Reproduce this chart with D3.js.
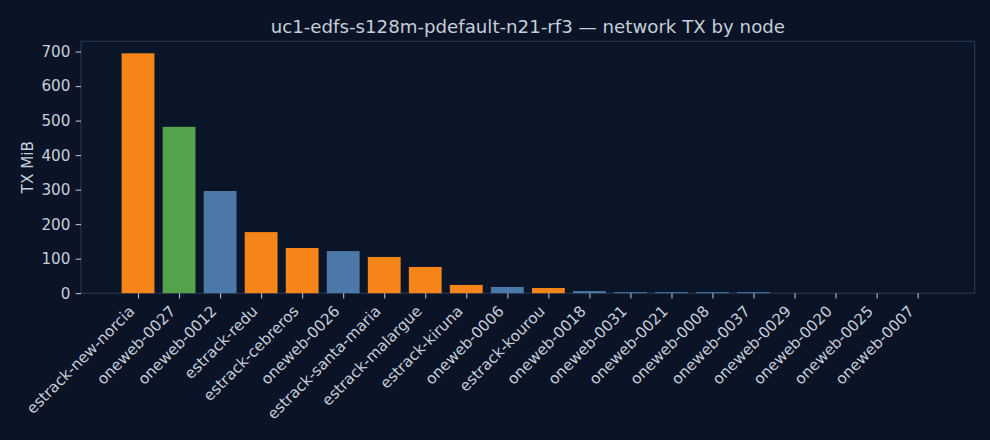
<!DOCTYPE html>
<html>
<head>
<meta charset="utf-8">
<script src="https://cdn.jsdelivr.net/npm/d3@7"></script>
<style>
  html, body { margin: 0; padding: 0; background: #0b1426; }
  text { font-family: "DejaVu Sans", sans-serif; }
</style>
</head>
<body>
<div id="chart"></div>
<script>
const nodes = ["estrack-new-norcia", "oneweb-0027", "oneweb-0012", "estrack-redu", "estrack-cebreros",
  "oneweb-0026", "estrack-santa-maria", "estrack-malargue", "estrack-kiruna", "oneweb-0006",
  "estrack-kourou", "oneweb-0018", "oneweb-0031", "oneweb-0021", "oneweb-0008",
  "oneweb-0037", "oneweb-0029", "oneweb-0020", "oneweb-0025", "oneweb-0007"];
const txMiB = [695, 482, 296, 177, 131, 122, 105, 76, 24, 18, 15, 6, 3, 3, 3, 3, 0, 0, 0, 0];
const yTicks = [0, 100, 200, 300, 400, 500, 600, 700];
const highlight = "oneweb-0027";

const W = 990, H = 440;
let margin = { top: 41.3, right: 15.3, bottom: 146.8, left: 81 },
  width = W - margin.left - margin.right,
  height = H - margin.top - margin.bottom;

const textCol = "#c5cedb", spineCol = "#2a3a55";
const fs = 15.2;
const colour = name => name === highlight ? "#54a24b"
  : name.startsWith("estrack") ? "#f58518" : "#4c78a8";

let svg = d3.select("#chart")
  .append("svg")
  .attr("width", W)
  .attr("height", H)
  .style("background", "#0b1426");

svg.append("text")
  .attr("x", margin.left + width / 2)
  .attr("y", 33)
  .attr("text-anchor", "middle")
  .attr("fill", textCol)
  .attr("font-size", 18.2)
  .text("uc1-edfs-s128m-pdefault-n21-rf3 \u2014 network TX by node");

let g = svg.append("g")
  .attr("transform", "translate(" + margin.left + "," + margin.top + ")");

g.append("rect")
  .attr("width", width)
  .attr("height", height)
  .attr("fill", "#0b1528")
  .attr("stroke", spineCol)
  .attr("stroke-width", 1);

// matplotlib-like margins around bar positions 0..n-1
let x = d3.scaleLinear()
  .domain([-1.39, nodes.length - 1 + 1.39])
  .range([0, width]);

let y = d3.scaleLinear()
  .domain([0, d3.max(txMiB) * 1.05])
  .range([height, 0]);

g.append("g")
  .selectAll("rect")
  .data(nodes)
  .enter()
  .append("rect")
  .attr("x", (d, i) => x(i - 0.4))
  .attr("width", x(0.8) - x(0))
  .attr("y", (d, i) => y(txMiB[i]))
  .attr("height", (d, i) => y(0) - y(txMiB[i]))
  .attr("fill", d => colour(d));

let yAxis = g.append("g")
  .call(d3.axisLeft(y).tickValues(yTicks).tickSize(5.3).tickPadding(5.3));
yAxis.select(".domain").remove();
yAxis.selectAll("line").attr("stroke", textCol);
yAxis.selectAll("text")
  .attr("fill", textCol)
  .attr("font-size", fs)
  .attr("font-family", "DejaVu Sans, sans-serif");

let xAxis = g.append("g")
  .attr("transform", "translate(0," + height + ")")
  .call(d3.axisBottom(x).tickValues(d3.range(nodes.length))
    .tickFormat(i => nodes[i]).tickSize(5.3).tickPadding(5.3));
xAxis.select(".domain").remove();
xAxis.selectAll("line").attr("stroke", textCol);
xAxis.selectAll("text")
  .attr("fill", textCol)
  .attr("font-size", fs)
  .attr("font-family", "DejaVu Sans, sans-serif")
  .attr("text-anchor", "end")
  .attr("x", 0)
  .attr("y", 0)
  .attr("dy", "0")
  .attr("transform", "translate(-3,19) rotate(-45)");

svg.append("text")
  .attr("transform", "translate(" + 32.5 + "," + (margin.top + height / 2) + ") rotate(-90)")
  .attr("text-anchor", "middle")
  .attr("fill", textCol)
  .attr("font-size", fs)
  .text("TX MiB");
</script>
</body>
</html>
